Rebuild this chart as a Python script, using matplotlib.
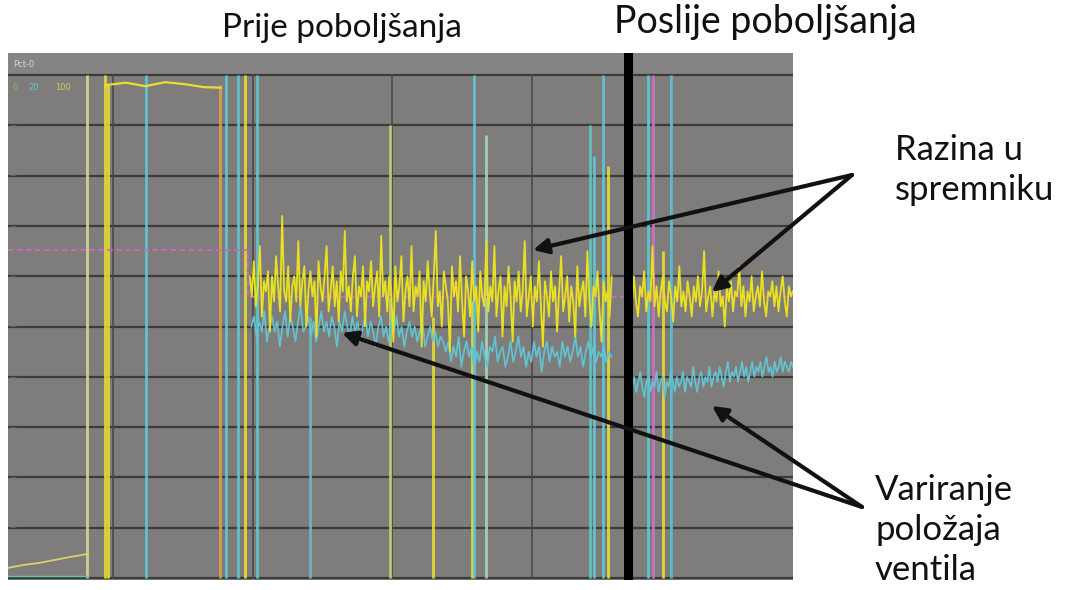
import numpy as np
import matplotlib
matplotlib.use("Agg")
import matplotlib.pyplot as plt

# ---------------- data (x in % of trend window, y in % of range) ----------------
grid_x = [13.4, 31.2, 48.9, 66.8, 84.6]
grid_y = [0, 10, 20, 30, 40, 50, 60, 70, 80, 90, 100]

# level (yellow) before the improvement
level_before_x0, level_before_x1 = 30.8, 76.9
level_before = [60, 56, 63, 54, 58, 66, 52, 59, 57, 61, 49, 60, 55, 64, 58, 53, 72, 57, 55, 62,
                51, 58, 60, 55, 67, 54, 59, 62, 50, 57, 61, 56, 59, 48, 63, 58, 55, 60, 66, 53,
                57, 62, 54, 59, 51, 61, 57, 69, 55, 58, 53, 60, 64, 52, 58, 56, 62, 50, 59, 57,
                63, 54, 58, 61, 52, 68, 56, 59, 53, 60, 57, 47, 62, 55, 58, 64, 51, 57, 60, 54,
                66, 53, 58, 56, 61, 46, 59, 55, 63, 57, 52, 60, 69, 54, 57, 50, 61, 58, 55, 45,
                62, 56, 59, 53, 64, 55, 48, 60, 57, 52, 63, 55, 58, 49, 61, 56, 54, 67, 53, 58,
                55, 66, 52, 57, 60, 48, 58, 54, 62, 56, 47, 59, 55, 61, 53, 57, 67, 52, 56, 60,
                50, 58, 55, 63, 54, 46, 59, 56, 52, 61, 55, 58, 49, 57, 64, 53, 56, 60, 51, 58,
                55, 48, 62, 54, 57, 59, 52, 65, 55, 50, 58, 56, 61, 53, 47, 59, 55, 57, 52, 60]
# level (yellow) after the improvement
level_after_x0, level_after_x1 = 79.2, 100.0
level_after = [57, 54, 60, 55, 52, 58, 56, 61, 53, 57, 55, 66, 54, 58, 52, 57, 60, 55, 53, 59,
               56, 51, 58, 55, 62, 54, 57, 53, 59, 56, 52, 58, 55, 60, 54, 57, 65, 53, 56, 58,
               52, 57, 55, 61, 54, 56, 50, 58, 55, 59, 53, 57, 56, 62, 54, 58, 52, 57, 55, 60,
               53, 56, 58, 54, 61, 55, 52, 57, 56, 59, 54, 58, 53, 57, 60, 55, 52, 58, 56, 57]
# valve position (cyan) before / after
valve_before_x0, valve_before_x1 = 31.0, 76.9
valve_before = [50, 52, 48, 51, 49, 53, 47, 50, 52, 49, 51, 46, 50, 53, 48, 52, 50, 47, 51, 54,
                49, 50, 52, 48, 51, 47, 50, 53, 49, 51, 48, 52, 50, 46, 51, 49, 53, 50, 48, 52,
                49, 51, 47, 50, 52, 48, 51, 49, 46, 50, 52, 48, 50, 47, 51, 49, 52, 48, 50, 46,
                49, 51, 48, 50, 47, 49, 51, 46, 48, 50, 47, 49, 46, 48, 47,
                45, 47, 43, 46, 44, 48, 42, 45, 47, 44, 46, 41, 45, 43, 47, 44, 42, 46, 45, 48,
                43, 45, 46, 42, 44, 47, 43, 45, 48, 44, 46, 42, 45, 43, 47, 44, 46, 41, 45, 47,
                43, 46, 44, 45, 42, 47, 44, 46, 43, 45, 48, 44, 46, 42, 45, 47, 44, 46, 43, 45,
                44, 46, 43, 45, 44]
valve_after_x0, valve_after_x1 = 79.5, 100.0
valve_after = [38, 40, 37, 39, 41, 38, 36, 39, 40, 37, 39, 38, 41, 37, 39, 40, 36, 39, 38, 41,
               39, 37, 40, 38, 39, 41, 37, 40, 39, 38, 42, 39, 37, 40, 41, 38, 40, 39, 42, 38,
               40, 41, 39, 42, 40, 38, 41, 43, 39, 41, 40, 42, 39, 41, 43, 40, 42, 39, 41, 43,
               40, 42, 41, 43, 40, 42, 44, 41, 42, 40, 43, 41, 42, 44, 41, 43, 42, 41, 43, 42]

# early part of the yellow trace
early_low_x = [0.0, 2.0, 4.0, 6.0, 8.0, 10.2]
early_low_y = [2.0, 2.6, 3.0, 3.6, 4.2, 4.8]
early_top_x = [12.4, 15.0, 17.5, 20.0, 22.5, 25.0, 27.1]
early_top_y = [98.0, 98.5, 97.8, 98.6, 98.2, 97.6, 97.5]

# set point (magenta)
sp_x = [0.0, 30.6, 30.6, 100.0]
sp_y = [65.2, 65.2, 55.9, 55.9]

# signal drop-outs (vertical spikes)
spike_x = [10.1, 12.3, 12.8, 17.6, 27.0, 27.8, 29.3, 30.2, 31.7, 38.5, 48.7, 54.2, 59.1, 59.4,
           60.9, 74.1, 74.6, 75.8, 76.4, 81.5, 82.2, 83.5, 84.4]
spike_top = [100, 100, 98, 100, 98, 100, 100, 100, 100, 52, 90, 52, 55, 100,
             88, 90, 84, 100, 82, 100, 100, 65, 100]
spike_col = ["#d8d890", "#e8e030", "#e8e030", "#5ec8d8", "#e0a048", "#5ec8d8", "#5ec8d8",
             "#e8e030", "#5ec8d8", "#6ab8c8", "#b8d870", "#e8e030", "#e8e030", "#5ec8d8",
             "#a8d8c0", "#5ec8c0", "#5ec8d8", "#5ec8d8", "#e8e030", "#5ec8d8", "#d070c8",
             "#e8e030", "#5ec8d8"]

divider_x = 79.0

# ---------------- figure ----------------
W, H = 1065, 590
fig = plt.figure(figsize=(W / 100, H / 100), dpi=100)
fig.patch.set_facecolor("white")

ax = fig.add_axes([8 / W, (H - 580) / H, 785 / W, 527 / H])
ax.set_facecolor("#7f7d7c")
ax.set_xlim(0, 100)
ax.set_ylim(-0.4, 104.4)
for s in ax.spines.values():
    s.set_visible(False)
ax.set_xticks([])
ax.set_yticks([])

ax.axhspan(100, 104.4, color="#858383", zorder=0)
for gy in grid_y:
    ax.axhline(gy, color="#3c3b3b", lw=1.6, zorder=1)
for gx in grid_x:
    ax.plot([gx, gx], [0, 100], color="#4a4848", lw=1.2, zorder=1)

# set point
ax.plot(sp_x, sp_y, color="#c868c0", lw=1.3, ls=(0, (3, 2)), zorder=3)

# spikes
ax.vlines(spike_x, 0, spike_top, colors=spike_col, lw=2.0, zorder=2, alpha=0.9)

# early traces
ax.plot(early_low_x, early_low_y, color="#d8d070", lw=1.3, zorder=3)
ax.plot(early_top_x, early_top_y, color="#e8e030", lw=1.6, zorder=3)
ax.plot([0, 10.2], [0.4, 0.4], color="#5ec8a8", lw=1.0, zorder=3)

# noisy traces
vb_x = np.linspace(valve_before_x0, valve_before_x1, len(valve_before))
va_x = np.linspace(valve_after_x0, valve_after_x1, len(valve_after))
ax.plot(vb_x, valve_before, color="#62c4d2", lw=1.2, zorder=4)
ax.plot(va_x, valve_after, color="#62c4d2", lw=1.2, zorder=4)

lb_x = np.linspace(level_before_x0, level_before_x1, len(level_before))
la_x = np.linspace(level_after_x0, level_after_x1, len(level_after))
ax.plot(lb_x, level_before, color="#e8e020", lw=1.3, zorder=5)
ax.plot(la_x, level_after, color="#e8e020", lw=1.3, zorder=5)

# divider line
ax.axvline(divider_x, color="black", lw=6.5, zorder=8)

# header texts
ax.text(0.6, 102.2, "Pct-0", color="#d8d8d8", fontsize=6, va="center", zorder=6)
ax.text(0.6, 97.5, "0", color="#70c070", fontsize=6, va="center", zorder=6)
ax.text(2.6, 97.5, "20", color="#62c4d2", fontsize=6, va="center", zorder=6)
ax.text(6.0, 97.5, "100", color="#d8c860", fontsize=6, va="center", zorder=6)
for gy in [90, 80, 70, 60, 50, 40, 30, 20, 10]:
    ax.text(0.2, gy, "—", color="#70b070", fontsize=5, va="center", zorder=6, alpha=0.7)

# ---------------- annotation overlay (figure pixels) ----------------
ov = fig.add_axes([0, 0, 1, 1], zorder=10)
ov.set_xlim(0, W)
ov.set_ylim(H, 0)
ov.axis("off")
ov.patch.set_alpha(0)

font = "Lato"
tc = "#111111"
ov.text(342, 28, "Prije poboljšanja", fontsize=24, family=font, ha="center", va="center", color=tc)
ov.text(765, 22, "Poslije poboljšanja", fontsize=27, family=font, ha="center", va="center", color=tc)
ov.text(895, 150, "Razina u", fontsize=25, family=font, ha="left", va="center", color=tc)
ov.text(895, 190, "spremniku", fontsize=25, family=font, ha="left", va="center", color=tc)
ov.text(875, 490, "Variranje", fontsize=25, family=font, ha="left", va="center", color=tc)
ov.text(875, 530, "položaja", fontsize=25, family=font, ha="left", va="center", color=tc)
ov.text(875, 570, "ventila", fontsize=25, family=font, ha="left", va="center", color=tc)

aprops = dict(arrowstyle="-|>", lw=3.0, color="#111111", mutation_scale=22, shrinkA=0, shrinkB=0)
ov.annotate("", xy=(533, 250), xytext=(852, 175), arrowprops=aprops)
ov.annotate("", xy=(712, 292), xytext=(852, 175), arrowprops=aprops)
ov.annotate("", xy=(342, 333), xytext=(862, 507), arrowprops=aprops)
ov.annotate("", xy=(712, 406), xytext=(862, 507), arrowprops=aprops)

fig.savefig("out.png", dpi=100)
